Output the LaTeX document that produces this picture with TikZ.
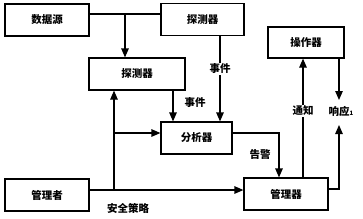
\documentclass[tikz,border=0pt]{standalone}
\usepackage{fontspec}
\setmainfont{Noto Sans CJK SC}
\usetikzlibrary{arrows.meta}
\begin{document}
\begin{tikzpicture}[x=1pt,y=-1pt,
  box/.style={draw,line width=1.2pt,inner sep=0pt,font=\fontsize{10.5}{12}\selectfont\bfseries},
  conn/.style={line width=1.2pt},
  arr/.style={conn,-{Triangle[length=9pt,width=7.5pt]}},
  lbl/.style={font=\fontsize{10.5}{12}\selectfont\bfseries,inner sep=1pt}]
\useasboundingbox (0,0) rectangle (363,218);
\node[box,minimum width=84pt,minimum height=32pt] (ds) at (47,20) {数据源};
\node[box,minimum width=83pt,minimum height=32pt] (det1) at (202.5,19.5) {探测器};
\node[box,minimum width=96pt,minimum height=32pt] (det2) at (137,74) {探测器};
\node[box,minimum width=71pt,minimum height=32pt] (ana) at (196.5,138) {分析器};
\node[box,minimum width=84pt,minimum height=32pt] (adm) at (47,195) {管理者};
\node[box,minimum width=84pt,minimum height=32pt] (mgr) at (286,194) {管理器};
\node[box,minimum width=76pt,minimum height=31pt] (op) at (306,42.5) {操作器};
\coordinate (j1) at (125,14);
\coordinate (j2) at (114,190);
\coordinate (j3) at (114,133);
\coordinate (c1) at (279,133);
\coordinate (c2) at (339,189);
\coordinate (r1) at (339,125);
\coordinate (r2) at (339,100);
% data source to detectors
\draw[conn] (ds.east |- j1) -- (det1.west |- j1);
\draw[arr] (j1) -- (det2.north -| j1);
% top detector to analyzer
\draw[arr] (det1.south -| 220,0) -- (ana.north -| 220,0);
\node[lbl,fill=white] (e1) at (220,69) {事件};
% middle detector to analyzer
\draw[arr] (det2.south -| 173,0) -- (ana.north -| 173,0);
\node[lbl] (e2) at (195,103) {事件};
% admin
\draw[arr] (adm.east |- j2) -- (mgr.west |- j2);
\draw[arr] (j2) -- (det2.south -| j2);
\draw[arr] (j3) -- (ana.west |- j3);
\node[lbl] (pol) at (128,208) {安全策略};
% analyzer to manager
\draw[arr] (ana.east |- c1) -- (c1) -- (mgr.north -| c1);
\node[lbl] (alarm) at (260,154) {告警};
% manager to operator
\draw[arr] (mgr.north -| 303,0) -- (op.south -| 303,0);
\node[lbl,fill=white] (note) at (303,111) {通知};
% response
\draw[arr] (op.south -| r2) -- (r2);
\draw[arr] (mgr.east |- c2) -- (c2) -- (r1);
\node[lbl] (resp) at (341,111) {响应{\fontsize{6}{7}\selectfont 1}};
\end{tikzpicture}
\end{document}
